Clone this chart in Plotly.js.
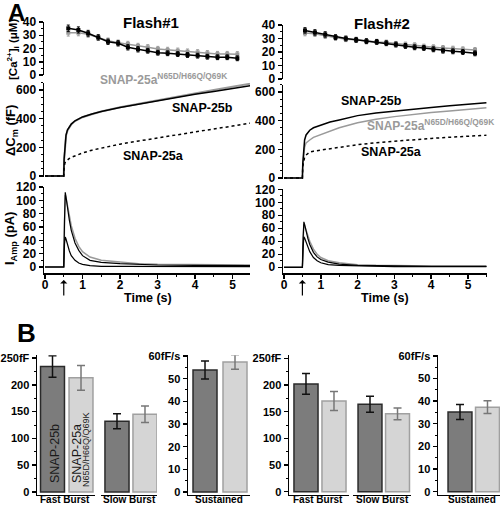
<!DOCTYPE html>
<html><head><meta charset="utf-8">
<script src="https://cdn.plot.ly/plotly-3.0.1.min.js"></script>
<style>html,body{margin:0;padding:0;background:#fff}#chart{width:500px;height:507px}</style>
</head><body><div id="chart"></div>
<script>
// ---------- Panel A data ----------
// [Ca2+]i samples (µM)
const caTime1 = [0.62,0.89,1.15,1.42,1.68,1.95,2.21,2.48,2.74,3.01,3.27,3.54,3.80,4.07,4.33,4.60,4.86,5.13];
const caSnap25b1 = [35.2,34,31.5,28.4,25.1,23.9,20.9,19.4,18.3,16.8,16.4,15.8,15.1,14.6,13.8,13.4,13.4,12.6];
const caSnap25bErr1 = [2.5,2.3,2.2,2,2,2,2,2,1.8,1.8,1.8,1.8,1.8,1.8,1.8,1.8,1.8,1.8];
const caMutant1 = [31.9,31.9,30.7,28.2,25.9,24.4,23.4,21.9,20.9,19.6,18.9,18.3,17.6,17.1,16.4,15.8,15.8,15.6];
const caMutantErr1 = [2.5,2.3,2.2,2,2,2,2,2,2,2,2,2,2,2,2,2,2,2];
const caTime2 = [0.57,0.84,1.12,1.40,1.68,1.96,2.24,2.52,2.78,3.04,3.30,3.55,3.80,4.06,4.32,4.59,4.86,5.19];
const caSnap25b2 = [36,34.5,33,31,30,29,28,27.5,26.5,25.5,24.5,23.5,23,22,21,20.5,20,19];
const caSnap25bErr2 = [2,2,2,1.8,1.8,1.8,1.8,1.8,1.8,1.8,1.8,1.8,1.8,1.8,1.8,1.8,1.8,1.8];
const caMutant2 = [34,33.5,32,30.5,29.5,29,28,27.5,27,26,25.5,25,24,23.5,23,22.5,22,21.5];
const caMutantErr2 = [2,2,2,1.8,1.8,1.8,1.8,1.8,1.8,1.8,1.8,1.8,1.8,1.8,1.8,1.8,1.8,1.8];

// Capacitance (fF)
const cmTime = [0,0.49,0.5,0.51,0.53,0.56,0.6,0.65,0.7,0.8,0.9,1.0,1.25,1.5,2.0,2.5,3.0,3.5,4.0,4.5,5.0,5.5];
const cmSnap25b1 = [0,0,0,120,220,285,322,345,362,385,400,412,432,450,478,502,525,548,570,590,610,630];
const cmMutant1  = [0,0,0,110,210,280,318,343,360,383,398,410,431,450,480,505,530,553,577,600,622,645];
const cmSnap25a1 = [0,0,0,60,90,103,113,122,130,141,152,160,180,195,222,244,266,288,308,328,348,370];
const cmSnap25b2 = [0,0,0,100,200,265,300,320,333,350,360,368,390,405,435,453,467,480,492,503,513,524];
const cmMutant2  = [0,0,0,80,160,215,245,258,265,283,293,300,325,350,385,410,428,443,456,467,479,490];
const cmSnap25a2 = [0,0,0,80,120,145,160,172,180,187,191,195,205,215,232,246,257,267,276,284,291,298];

// Amperometric current (pA)
const curTime = [0,0.49,0.5,0.52,0.54,0.56,0.6,0.65,0.7,0.8,0.9,1.0,1.2,1.5,2.0,2.5,3.0,4.0,5.0,5.5];
const curSnap25b1 = [0,0,0,70,112,105,88,70,55,36,25,17,10,7,5,4,3,2.5,2,2];
const curMutant1  = [0,0,0,65,108,104,92,76,62,43,31,23,15,10,7,5,4,3.5,3,3];
const curSnap25a1 = [0,0,0,35,45,42,33,24,17,10,6,4,2,1,1,1,0.5,0.5,0.5,0.5];
const curSnap25b2 = [0,0,0,45,70,66,55,44,35,23,16,12,8,5,3,2.5,2,1.5,1.5,1.5];
const curMutant2  = [0,0,0,42,66,64,57,48,40,28,20,15,10,7,4,3,2.5,2,2,2];
const curSnap25a2 = [0,0,0,30,47,45,38,30,24,15,10,7,4,3,2,1.5,1,1,1,1];

// ---------- Panel B data ----------
const barGroups = ['Fast Burst','Slow Burst','Sustained'];
const flash1Snap25b = [234,132,53.8];
const flash1Snap25bErr = [20,14,4];
const flash1Mutant = [213,145,57.3];
const flash1MutantErr = [23,15.5,3.2];
const flash2Snap25b = [202,164,35.2];
const flash2Snap25bErr = [19.5,15,3.3];
const flash2Mutant = [170,146,37.3];
const flash2MutantErr = [18,11,2.8];
const burstTickVals = [0,50,100,150,200,250];
const burstTickText = ['0','50','100','150','200','250fF'];
const sustTickVals = [0,10,20,30,40,50,60];
const sustTickText = ['0','10','20','30','40','50','60fF/s'];

// ---------- helpers ----------
const X = px => px/500;
const Y = py => 1 - py/507;
const FONT = 'Liberation Sans, Arial, Helvetica, sans-serif';
const BLACK = '#000000', GREY = '#9a9a9a';
const tickFont = {family: FONT, size: 12, color: '#000', weight: 'bold'};

const traces = [];
function caTrace(t, v, e, color, xa, ya) {
  traces.push({x: t, y: v, xaxis: xa, yaxis: ya, type: 'scatter', mode: 'lines+markers',
    line: {color: color, width: 1.5},
    marker: {symbol: 'square', size: 4, color: color},
    error_y: {type: 'data', array: e, color: color, thickness: 1, width: 1.5}});
}
function lineTrace(t, v, color, xa, ya, dash, w) {
  traces.push({x: t, y: v, xaxis: xa, yaxis: ya, type: 'scatter', mode: 'lines',
    line: {color: color, width: w || 1.5, dash: dash || 'solid'}});
}
caTrace(caTime1, caMutant1, caMutantErr1, GREY, 'x', 'y');
caTrace(caTime1, caSnap25b1, caSnap25bErr1, BLACK, 'x', 'y');
caTrace(caTime2, caMutant2, caMutantErr2, GREY, 'x4', 'y4');
caTrace(caTime2, caSnap25b2, caSnap25bErr2, BLACK, 'x4', 'y4');

lineTrace(cmTime, cmMutant1, GREY, 'x2', 'y2', 'solid', 2);
lineTrace(cmTime, cmSnap25b1, BLACK, 'x2', 'y2', 'solid', 1.5);
lineTrace(cmTime, cmSnap25a1, BLACK, 'x2', 'y2', 'dot', 1.5);
lineTrace(cmTime, cmMutant2, GREY, 'x5', 'y5', 'solid', 1.5);
lineTrace(cmTime, cmSnap25b2, BLACK, 'x5', 'y5', 'solid', 1.5);
lineTrace(cmTime, cmSnap25a2, BLACK, 'x5', 'y5', 'dot', 1.5);

lineTrace(curTime, curMutant1, GREY, 'x3', 'y3', 'solid', 1.5);
lineTrace(curTime, curSnap25b1, BLACK, 'x3', 'y3', 'solid', 1.2);
lineTrace(curTime, curSnap25a1, BLACK, 'x3', 'y3', 'solid', 1.2);
lineTrace(curTime, curMutant2, GREY, 'x6', 'y6', 'solid', 1.5);
lineTrace(curTime, curSnap25b2, BLACK, 'x6', 'y6', 'solid', 1.2);
lineTrace(curTime, curSnap25a2, BLACK, 'x6', 'y6', 'solid', 1.2);

function barPair(i, b, be, m, me, xa, ya, w) {
  traces.push({type: 'bar', x: [0], y: [b[i]], xaxis: xa, yaxis: ya, width: w,
    marker: {color: '#7c7c7c', line: {color: '#2a2a2a', width: 1.5}},
    error_y: {type: 'data', array: [be[i]], color: '#111', thickness: 1.5, width: 4}});
  traces.push({type: 'bar', x: [1], y: [m[i]], xaxis: xa, yaxis: ya, width: w,
    marker: {color: '#d5d5d5', line: {color: '#a0a0a0', width: 1.5}},
    error_y: {type: 'data', array: [me[i]], color: '#777', thickness: 1.5, width: 4}});
}
barPair(0, flash1Snap25b, flash1Snap25bErr, flash1Mutant, flash1MutantErr, 'x7', 'y7', 0.84);
barPair(1, flash1Snap25b, flash1Snap25bErr, flash1Mutant, flash1MutantErr, 'x8', 'y7', 0.86);
barPair(2, flash1Snap25b, flash1Snap25bErr, flash1Mutant, flash1MutantErr, 'x9', 'y9', 0.8);
barPair(0, flash2Snap25b, flash2Snap25bErr, flash2Mutant, flash2MutantErr, 'x10', 'y10', 0.86);
barPair(1, flash2Snap25b, flash2Snap25bErr, flash2Mutant, flash2MutantErr, 'x11', 'y10', 0.87);
barPair(2, flash2Snap25b, flash2Snap25bErr, flash2Mutant, flash2MutantErr, 'x12', 'y12', 0.87);

// ---------- axes ----------
function yAx(domain, range, anchor, major, minor, extra) {
  return Object.assign({domain: domain, range: range, anchor: anchor, showgrid: false, zeroline: false,
    showline: true, linecolor: '#000', linewidth: 1.5, ticks: 'outside', ticklen: 4, tickwidth: 1.5,
    tickcolor: '#000', tickmode: 'linear', tick0: 0, dtick: major, tickfont: tickFont,
    minor: {ticks: 'outside', ticklen: 2, tickwidth: 1, tickcolor: '#000', tickmode: 'linear', tick0: 0, dtick: minor}},
    extra || {});
}
function xHidden(domain, range, anchor) {
  return {domain: domain, range: range, anchor: anchor, visible: false, fixedrange: true};
}
function xTime(domain, range, anchor) {
  return {domain: domain, range: range, anchor: anchor, showgrid: false, zeroline: false,
    showline: true, linecolor: '#000', linewidth: 1.5, ticks: 'outside', ticklen: 4, tickwidth: 1.5,
    tickcolor: '#000', tickmode: 'linear', tick0: 0, dtick: 1, tickfont: tickFont, ticklabelstandoff: -4,
    minor: {ticks: 'outside', ticklen: 2, tickwidth: 1, tickcolor: '#000', tickmode: 'linear', tick0: 0, dtick: 0.5}};
}
function xBar(domain, range, anchor) {
  return {domain: domain, range: range, anchor: anchor, showgrid: false, zeroline: false,
    showline: true, linecolor: '#000', linewidth: 1.5, ticks: '', showticklabels: false};
}
const bFont = {family: FONT, size: 11, color: '#000', weight: 'bold'};
function yBar(domain, range, anchor, vals, text, minor) {
  return {domain: domain, range: range, anchor: anchor, showgrid: false, zeroline: false,
    showline: true, linecolor: '#000', linewidth: 1.5, ticks: 'outside', ticklen: 4, tickwidth: 1.5,
    tickcolor: '#000', tickmode: 'array', tickvals: vals, ticktext: text, tickfont: bFont,
    minor: {ticks: 'outside', ticklen: 2, tickwidth: 1, tickcolor: '#000', tickmode: 'linear', tick0: 0, dtick: minor}};
}

const xL = [X(44), X(250)], rL = [-0.027, 5.467];
const xR = [X(283), X(487)], rR = [-0.027, 5.516];
const bDom = [Y(494.7), Y(355.3)];

const layout = {
  width: 500, height: 507, autosize: false,
  margin: {l: 0, r: 0, t: 0, b: 0, pad: 0},
  paper_bgcolor: '#fff', plot_bgcolor: 'rgba(0,0,0,0)',
  showlegend: false, barmode: 'overlay',
  font: {family: FONT, color: '#000'},
  xaxis: xHidden(xL, rL, 'y'),
  yaxis: yAx([Y(75), Y(22)], [0, 40], 'x', 10, 5),
  xaxis2: xHidden(xL, rL, 'y2'),
  yaxis2: yAx([Y(177.4), Y(82.8)], [-10, 650], 'x2', 200, 50),
  xaxis3: xTime(xL, rL, 'y3'),
  yaxis3: yAx([Y(273), Y(187)], [-9, 120], 'x3', 20, 10),
  xaxis4: xHidden(xR, rR, 'y4'),
  yaxis4: yAx([Y(79), Y(25)], [0, 40], 'x4', 10, 5),
  xaxis5: xHidden(xR, rR, 'y5'),
  yaxis5: yAx([Y(179.4), Y(84.8)], [-10, 650], 'x5', 200, 50),
  xaxis6: xTime(xR, rR, 'y6'),
  yaxis6: yAx([Y(273), Y(189.3)], [-8.8, 120], 'x6', 20, 10),
  xaxis7: xBar([X(37), X(95)], [-0.544, 1.491], 'y7'),
  yaxis7: yBar(bDom, [-5, 255], 'x7', burstTickVals, burstTickText, 25),
  xaxis8: xBar([X(101), X(157)], [-0.571, 1.429], 'y7'),
  xaxis9: xBar([X(188), X(250)], [-0.567, 1.5], 'y9'),
  yaxis9: yBar(bDom, [-1.19, 60.3], 'x9', sustTickVals, sustTickText, 5),
  xaxis10: xBar([X(289), X(349)], [-0.607, 1.536], 'y10'),
  yaxis10: yBar(bDom, [-5.6, 255.6], 'x10', burstTickVals, burstTickText, 25),
  xaxis11: xBar([X(353), X(411)], [-0.618, 1.49], 'y10'),
  xaxis12: xBar([X(438), X(500)], [-0.8, 1.455], 'y12'),
  yaxis12: yBar(bDom, [-1.32, 60.2], 'x12', sustTickVals, sustTickText, 5),
  annotations: []
};

function ann(text, px, py, size, opts) {
  layout.annotations.push(Object.assign({text: text, xref: 'paper', yref: 'paper', x: X(px), y: Y(py),
    xanchor: 'center', yanchor: 'middle', showarrow: false,
    font: {family: FONT, size: size, color: '#000', weight: 'bold'}}, opts || {}));
}
ann('A', 16, -3, 24, {yanchor: 'top'});
ann('B', 26, 333, 26);
ann('Flash#1', 151, 22, 15);
ann('Flash#2', 382, 23, 15);
ann('[Ca<sup>2+</sup>]<sub>i</sub> (μM)', 13, 50, 11.5, {textangle: -90});
ann('ΔC<sub>m</sub> (fF)', 11, 131, 13, {textangle: -90});
ann('I<sub>Amp</sub> (pA)', 11, 239, 13, {textangle: -90});
ann('Time (s)', 148, 298, 12.5);
ann('Time (s)', 385, 298, 12.5);
// trace labels
const greyLabel = {family: FONT, size: 12, color: '#9a9a9a', weight: 'bold'};
ann('SNAP-25a<sup>N65D/H66Q/Q69K</sup>', 98, 79, 12, {xanchor: 'left', font: greyLabel});
ann('SNAP-25b', 202, 108, 12.5);
ann('SNAP-25a', 153, 156, 12.5);
ann('SNAP-25b', 371, 101, 12.5);
ann('SNAP-25a<sup>N65D/H66Q/Q69K</sup>', 365, 125, 12, {xanchor: 'left', font: greyLabel});
ann('SNAP-25a', 391, 152, 12.5);
// flash arrows
[['x3', 0.5], ['x6', 0.5]].forEach(function (a) {
  layout.annotations.push({text: '', xref: a[0], yref: 'paper', x: a[1], y: Y(280), ax: 0, ay: 17,
    showarrow: true, arrowhead: 1, arrowsize: 1, arrowwidth: 1.2, arrowcolor: '#000', standoff: 0});
});
// bar labels
const barLabelFont = {family: FONT, size: 12.5, color: '#1a1a1a'};
ann('SNAP-25b', 55, 454, 12.5, {textangle: -90, font: barLabelFont});
ann('SNAP-25a', 77, 454, 12.5, {textangle: -90, font: barLabelFont});
ann('N65D/H66Q/Q69K', 86, 450, 9, {textangle: -90, font: {family: FONT, size: 9, color: '#1a1a1a'}});
// group labels
const gx = [[65, 129, 219], [318, 382, 472]];
gx.forEach(function (row) {
  row.forEach(function (px, i) { ann(barGroups[i], px, 507, 10, {yanchor: 'bottom'}); });
});

Plotly.newPlot('chart', traces, layout, {displayModeBar: false, staticPlot: true});
</script>
</body></html>
